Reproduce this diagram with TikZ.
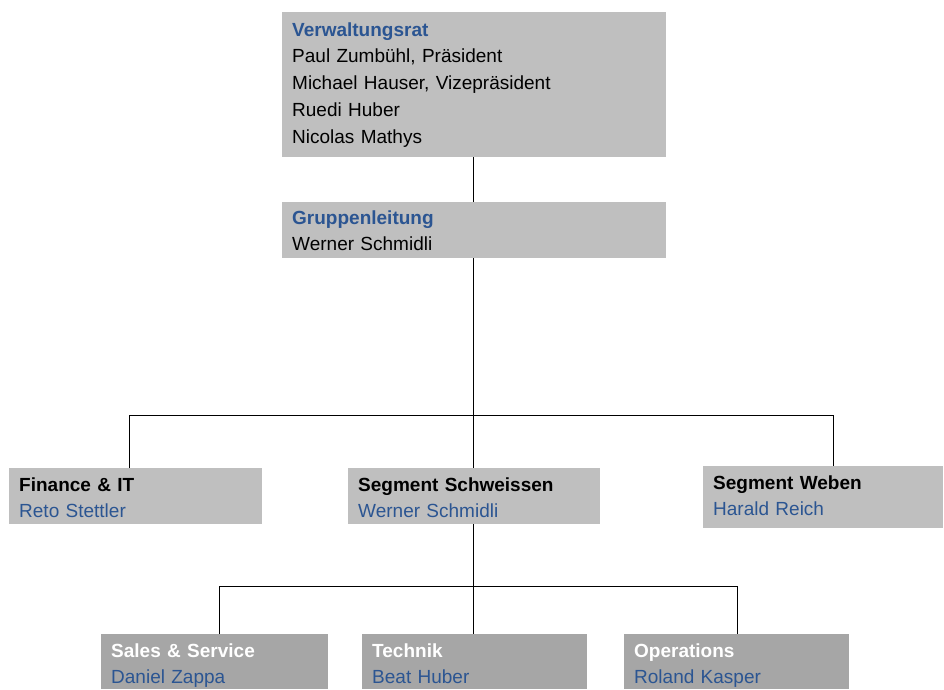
\documentclass[tikz,border=0pt]{standalone}
\usepackage{fontspec}
\setmainfont{Liberation Sans}
\usepackage{xcolor}
\definecolor{Board}{HTML}{BFBFBF}
\definecolor{Unit}{HTML}{A6A6A6}
\definecolor{Head}{HTML}{2B5592}
\usepackage{tikz}
\usetikzlibrary{positioning,calc}
\tikzset{
  orgbox/.style={anchor=north west,fill=Board,inner xsep=10pt,inner ysep=0pt,
    align=left,font=\fontsize{19}{26.7}\selectfont,text height=23pt,text depth=33pt},
  subbox/.style={orgbox,fill=Unit},
  link/.style={draw=black,line width=1pt}
}
\newcommand{\boxtitle}[2][Head]{\textcolor{#1}{\bfseries #2}}
\newcommand{\boxname}[1]{\textcolor{Head}{#1}}

\begin{document}
\begin{tikzpicture}[x=1pt,y=-1pt]
  \useasboundingbox (0,0) rectangle (944,689);
  % Leitung
  \node[orgbox, text width=364pt, text height=24pt, text depth=121pt] (board) at (282,12)
    {\boxtitle{Verwaltungsrat}\\Paul Zumbühl, Präsident\\Michael Hauser, Vizepräsident\\Ruedi Huber\\Nicolas Mathys};
  \node[orgbox, text width=364pt, text height=22pt, text depth=34pt] (mgmt) at (282,202)
    {\boxtitle{Gruppenleitung}\\Werner Schmidli};
  % Bereiche
  \node[orgbox, text width=233pt] (fin) at (9,468)
    {\boxtitle[black]{Finance \& IT}\\\boxname{Reto Stettler}};
  \node[orgbox, text width=232pt] (weld) at (348,468)
    {\boxtitle[black]{Segment Schweissen}\\\boxname{Werner Schmidli}};
  \node[orgbox, text width=220pt, text depth=39pt] (weave) at (703,466)
    {\boxtitle[black]{Segment Weben}\\\boxname{Harald Reich}};
  % Schweissen
  \node[subbox, text width=207pt, text depth=32pt] (sales) at (101,634)
    {\boxtitle[white]{Sales \& Service}\\\boxname{Daniel Zappa}};
  \node[subbox, text width=205pt, text depth=32pt] (tech) at (362,634)
    {\boxtitle[white]{Technik}\\\boxname{Beat Huber}};
  \node[subbox, text width=205pt, text depth=32pt] (ops) at (624,634)
    {\boxtitle[white]{Operations}\\\boxname{Roland Kasper}};
  \coordinate (busL) at (129,415);
  \coordinate (busR) at (833,415);
  \coordinate (subL) at (219,586);
  \coordinate (subR) at (737,586);
  \draw[link] (board.south -| 473,0) -- (mgmt.north -| 473,0);
  \draw[link] (mgmt.south -| 473,0) -- (weld.north -| 473,0);
  \draw[link] (busL |- fin.north) -- (busL) -- (busR) -- (busR |- weave.north);
  \draw[link] (weld.south -| 473,0) -- (tech.north -| 473,0);
  \draw[link] (subL |- sales.north) -- (subL) -- (subR) -- (subR |- ops.north);
\end{tikzpicture}
\end{document}
